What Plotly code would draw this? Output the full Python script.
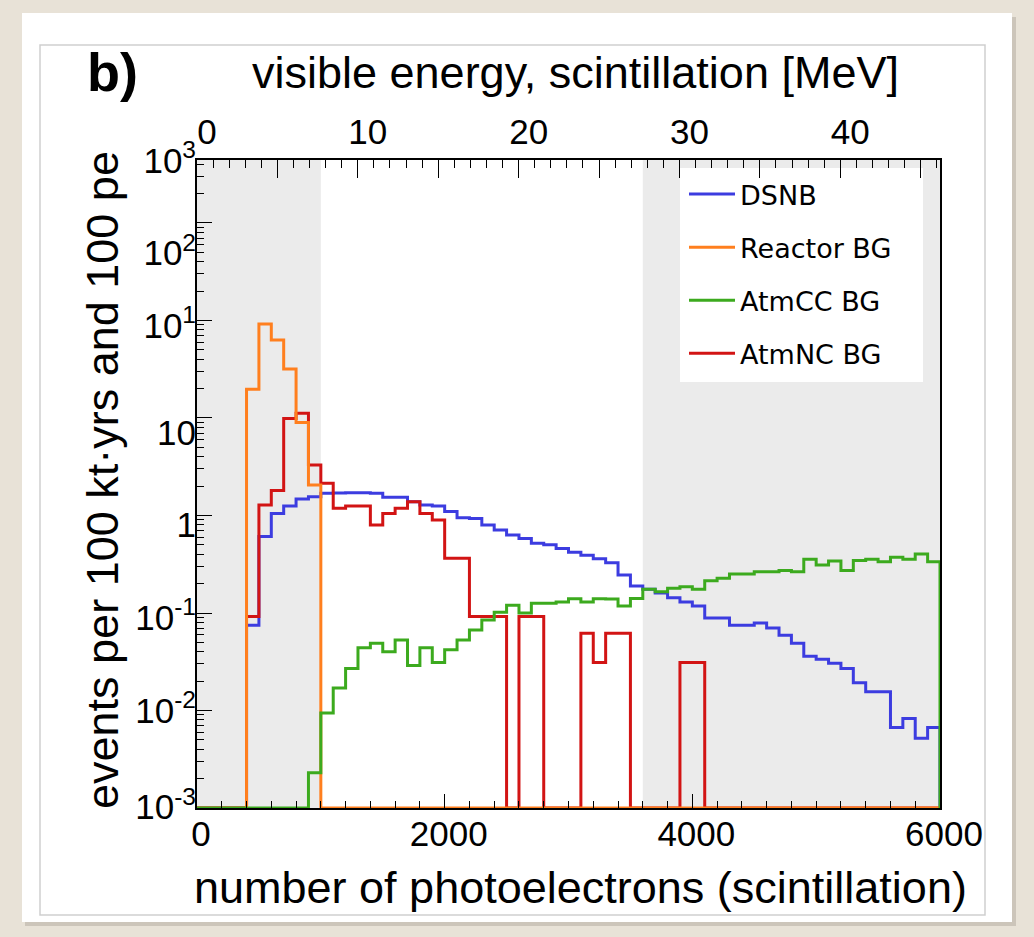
import numpy as np
import plotly.graph_objects as go

# ---------------- data (events per 100 kt*yrs and 100 pe) ----------------
bin_edges_pe = list(range(0, 6001, 100))

dsnb = [0, 0, 0, 0, 0.075, 0.61, 1.05, 1.25, 1.48, 1.56,
        1.69, 1.70, 1.71, 1.71, 1.69, 1.54, 1.54, 1.38, 1.28, 1.25,
        1.10, 0.95, 0.93, 0.80, 0.71, 0.63, 0.58, 0.52, 0.50, 0.46,
        0.42, 0.39, 0.36, 0.328, 0.245, 0.189, 0.175, 0.16, 0.143, 0.13,
        0.118, 0.089, 0.089, 0.075, 0.075, 0.079, 0.070, 0.059, 0.049, 0.036,
        0.0335, 0.0305, 0.027, 0.0193, 0.0156, 0.0156, 0.0067, 0.0083, 0.0052, 0.0067]

reactor_bg = [0, 0, 0, 0, 19.7, 92, 63, 31.8, 9.0, 2.06] + [0] * 50

atmcc_bg = [0, 0, 0, 0, 0, 0, 0, 0, 0, 0.0023,
            0.0094, 0.017, 0.027, 0.044, 0.049, 0.040, 0.053, 0.029, 0.044, 0.031,
            0.042, 0.053, 0.067, 0.085, 0.102, 0.12, 0.10, 0.126, 0.126, 0.13,
            0.14, 0.13, 0.14, 0.139, 0.118, 0.141, 0.175, 0.165, 0.179, 0.186,
            0.175, 0.214, 0.227, 0.251, 0.251, 0.265, 0.265, 0.272, 0.265, 0.356,
            0.31, 0.341, 0.272, 0.345, 0.356, 0.336, 0.372, 0.356, 0.403, 0.336]

atmnc_bg = [0, 0, 0, 0, 0.092, 1.28, 1.8, 9.9, 11.2, 3.3,
            2.14, 1.19, 1.25, 1.25, 0.80, 1.05, 1.19, 1.38, 1.05, 0.90,
            0.364, 0.364, 0.092, 0.092, 0.092, 0, 0.092, 0.092, 0, 0,
            0, 0.062, 0.031, 0.062, 0.062, 0, 0, 0, 0, 0.031,
            0.031] + [0] * 19

series_names = ["DSNB", "Reactor BG", "AtmCC BG", "AtmNC BG"]

# axis settings
pe_range = [0, 6000]
energy_range = [0, 46.2]          # MeV, top axis
y_log_range = [-3, 3.646]
y_floor = 1e-3
energy_label_ticks = [0, 10, 20, 30, 40]
energy_mid_ticks = [5, 15, 25, 35, 45]
# tick labels as printed on the (edited) original figure
ylabel_pos = [-2.99, -2.0, -1.05, -0.10, 0.85, 1.95, 2.69, 3.64]
ylabel_txt = ["10<sup>-3</sup>", "10<sup>-2</sup>", "10<sup>-1</sup>", "1", "10",
              "10<sup>1</sup>", "10<sup>2</sup>", "10<sup>3</sup>"]
shaded_pe = [(0, 1000), (3600, 6000)]

colors = {"DSNB": "#3c3ce0", "Reactor BG": "#ff7f1e",
          "AtmCC BG": "#3caa1e", "AtmNC BG": "#d21414"}

# ---------------- figure ----------------
W, H = 1034, 937
L, R, T, B = 197, 94, 160, 129
pw, ph = W - L - R, H - T - B


def px(xp):
    return (xp - L) / pw


def py(yp):
    return (H - B - yp) / ph


fig = go.Figure()

# page background card (drawn first, below everything)
fig.add_shape(type="rect", xref="paper", yref="paper", x0=px(25), x1=px(1016), y0=py(926), y1=py(17),
              fillcolor="rgba(120,110,100,0.25)", line_width=0, layer="below")
fig.add_shape(type="rect", xref="paper", yref="paper", x0=px(22), x1=px(1012), y0=py(922), y1=py(13),
              fillcolor="white", line_width=0, layer="below")
fig.add_shape(type="rect", xref="paper", yref="paper", x0=px(40), x1=px(985), y0=py(915), y1=py(45),
              fillcolor="rgba(0,0,0,0)", line=dict(color="#cfcfcf", width=1.5), layer="below")
# shaded regions
for a, b in shaded_pe:
    fig.add_shape(type="rect", xref="x", yref="paper", x0=a, x1=b, y0=0, y1=1,
                  fillcolor="rgb(235,235,235)", line_width=0, layer="below")
# white legend panel
fig.add_shape(type="rect", xref="paper", yref="paper", x0=px(680), x1=px(923), y0=py(382), y1=py(168),
              fillcolor="white", line_width=0, layer="below")

data_map = {"DSNB": dsnb, "Reactor BG": reactor_bg,
            "AtmCC BG": atmcc_bg, "AtmNC BG": atmnc_bg}
rank = {n: i for i, n in enumerate(series_names)}
for name in ["DSNB", "AtmNC BG", "Reactor BG", "AtmCC BG"]:
    vals = np.maximum(np.array(data_map[name], dtype=float), y_floor)
    yv = list(vals) + [y_floor]
    fig.add_trace(go.Scatter(
        x=bin_edges_pe, y=yv, mode="lines", line=dict(shape="hv", color=colors[name], width=3),
        name=name, legendgroup=name, legendrank=rank[name] + 1, hoverinfo="skip"))

# invisible carrier traces so that the top energy axes and label axis are drawn
fig.add_trace(go.Scatter(x=energy_range, y=[y_floor, y_floor], xaxis="x2", yaxis="y2",
                         mode="markers", marker=dict(opacity=0), showlegend=False, hoverinfo="skip"))
fig.add_trace(go.Scatter(x=energy_range, y=[y_floor, y_floor], xaxis="x3", yaxis="y",
                         mode="markers", marker=dict(opacity=0), showlegend=False, hoverinfo="skip"))

font_main = "Liberation Sans, Arial, Helvetica, sans-serif"
fig.add_annotation(text="<b>b)</b>", xref="paper", yref="paper", x=px(112), y=py(72),
                   xanchor="center", yanchor="middle", showarrow=False,
                   font=dict(family=font_main, size=54, color="black"))
fig.add_annotation(text="visible energy, scintillation [MeV]", xref="paper", yref="paper",
                   x=px(575), y=py(72), xanchor="center", yanchor="middle", showarrow=False,
                   font=dict(family=font_main, size=45, color="black"))
fig.add_annotation(text="number of photoelectrons (scintillation)", xref="paper", yref="paper",
                   x=px(580), y=py(887), xanchor="center", yanchor="middle", showarrow=False,
                   font=dict(family=font_main, size=45, color="black"))
fig.add_annotation(text="events per 100 kt\u00b7yrs and 100 pe", xref="paper", yref="paper",
                   x=px(102), y=py(480), xanchor="center", yanchor="middle", showarrow=False,
                   textangle=-90, font=dict(family=font_main, size=45, color="black"))

tickfont = dict(family=font_main, size=35, color="black")
fig.update_layout(
    width=W, height=H, margin=dict(l=L, r=R, t=T, b=B, pad=0),
    paper_bgcolor="rgb(232,226,215)", plot_bgcolor="white",
    xaxis=dict(range=pe_range, showline=True, linecolor="black", linewidth=2, mirror=False,
               ticks="inside", dtick=2000, tick0=0, ticklen=14, tickwidth=1.2, tickcolor="black",
               ticklabelshift=4, ticklabelstandoff=-6,
               minor=dict(ticks="inside", dtick=200, ticklen=7, tickwidth=1, tickcolor="black", showgrid=False),
               showgrid=False, zeroline=False, tickfont=tickfont),
    xaxis2=dict(range=energy_range, overlaying="x", side="top", anchor="y",
                showline=True, linecolor="black", linewidth=2,
                tickmode="array", tickvals=energy_label_ticks,
                ticks="inside", ticklen=18, tickwidth=1.2, tickcolor="black", ticklabelshift=10,
                minor=dict(ticks="inside", dtick=1, tick0=0, ticklen=8, tickwidth=1, tickcolor="black", showgrid=False),
                showgrid=False, zeroline=False, tickfont=tickfont),
    xaxis3=dict(range=energy_range, overlaying="x", side="top", anchor="y",
                showline=False, tickmode="array", tickvals=energy_mid_ticks, showticklabels=False,
                ticks="inside", ticklen=18, tickwidth=1.2, tickcolor="black",
                showgrid=False, zeroline=False),
    yaxis=dict(type="log", range=y_log_range, showline=True, mirror=True, linecolor="black", linewidth=2,
               tickmode="array", tickvals=[10.0 ** k for k in range(-3, 4)], showticklabels=False,
               ticks="inside", ticklen=15, tickwidth=1.2, tickcolor="black",
               minor=dict(ticks="inside", dtick="D1", ticklen=7, tickwidth=1, tickcolor="black", showgrid=False),
               showgrid=False, zeroline=False),
    yaxis2=dict(type="log", range=y_log_range, overlaying="y", side="left", anchor="x",
                tickmode="array", tickvals=[10.0 ** v for v in ylabel_pos], ticktext=ylabel_txt,
                ticks="", showline=False, showgrid=False, zeroline=False, tickfont=tickfont),
    legend=dict(x=px(684), y=py(170), xanchor="left", yanchor="top", bgcolor="rgba(255,255,255,0)",
                borderwidth=0, font=dict(family="DejaVu Sans", size=27, color="black"),
                itemwidth=46, tracegroupgap=15, traceorder="grouped"),
    showlegend=True,
)

fig.write_html("out.html", config={"displayModeBar": False},
               post_script="document.body.style.margin='0px';document.body.style.overflow='hidden';")
